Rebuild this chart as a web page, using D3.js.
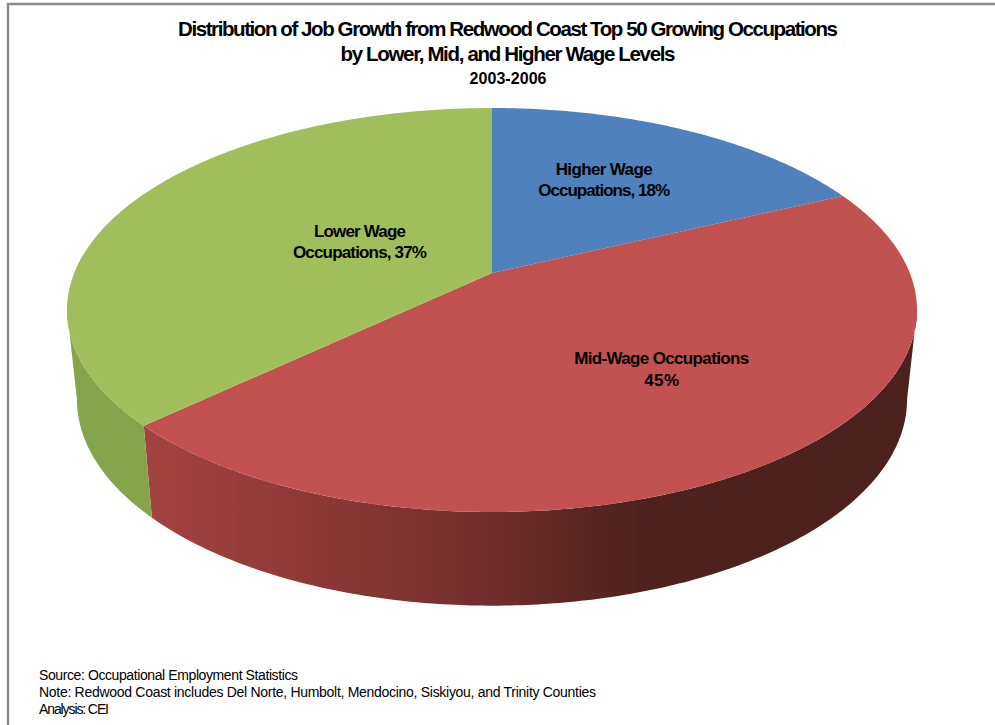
<!DOCTYPE html>
<html>
<head>
<meta charset="utf-8">
<script src="https://cdn.jsdelivr.net/npm/d3@7/dist/d3.min.js"></script>
<style>
  html, body { margin: 0; padding: 0; background: #fff; }
  svg { display: block; }
  text { font-family: "Liberation Sans", Arial, sans-serif; fill: #000; }
</style>
</head>
<body>
<svg id="chart" width="995" height="725"></svg>
<script>
// Wage-level shares of job growth, in clockwise order from twelve o'clock
const categories = ["Higher Wage Occupations", "Mid-Wage Occupations", "Lower Wage Occupations"];
const shares = [18, 45, 37];
const topColors = ["#4f81bd", "#c2524f", "#a0bf5c"];

// Wrapped label text for each slice
const sliceLabelLines = [
  ["Higher Wage", "Occupations, 18%"],
  ["Mid-Wage Occupations", "45%"],
  ["Lower Wage", "Occupations, 37%"]
];
const sliceLabelWidths = [[97, 132], [175, 35], [92, 134]];
// How far out along each slice's middle the label sits: [across, front-to-back]
const sliceLabelReach = [[0.546, 0.58], [0.66, 0.57], [0.353, 0.344]];

const titleLines = [
  "Distribution of Job Growth from Redwood Coast Top 50 Growing Occupations",
  "by Lower, Mid, and Higher Wage Levels",
  "2003-2006"
];
const footnoteLines = [
  "Source: Occupational Employment Statistics",
  "Note: Redwood Coast includes Del Norte, Humbolt, Mendocino, Siskiyou, and Trinity Counties",
  "Analysis: CEI"
];

const svg = d3.select("#chart");
const centerX = 492;
const tilt = 0.1832;   // perspective strength: the near edge of the disc looks larger

// Perspective view of a point on the unit disc; `face` picks the top or bottom rim
const topFace = { across: 417.8, depth: 145.2, y0: 273 };
const bottomFace = { across: 408, depth: 132.7, y0: 362 };
function project(face, x, y) {
  const w = 1 - tilt * y;
  return [centerX + face.across * x / w, (face.depth * y + face.y0) / w];
}
const onRim = (face, angle, r = 1) =>
  project(face, r * Math.sin(angle), -r * Math.cos(angle));

const slices = d3.pie().sort(null).value(d => d)(shares);
const line = d3.line();
const samples = (a0, a1) => {
  const n = Math.max(2, Math.ceil((a1 - a0) * 90));
  return d3.range(n + 1).map(i => a0 + (a1 - a0) * i / n);
};

// Frame: only the top and left edges of the chart box show
svg.append("path")
  .attr("d", "M8,725V4H995")
  .attr("fill", "none")
  .attr("stroke", "#8a8a8a")
  .attr("stroke-width", 2.4);

// Side wall shading, dark toward the right
const defs = svg.append("defs");
const wall = defs.append("linearGradient")
  .attr("id", "redWall")
  .attr("gradientUnits", "userSpaceOnUse")
  .attr("x1", 145).attr("x2", 917).attr("y1", 0).attr("y2", 0);
[[0, "#a3433f"], [0.16, "#933c39"], [0.33, "#803431"], [0.47, "#6d2c2a"],
 [0.58, "#582522"], [0.66, "#4e211e"], [1, "#4c201d"]]
  .forEach(([o, c]) => wall.append("stop").attr("offset", o).attr("stop-color", c));
const wallFills = [null, "url(#redWall)", "#86a44b"];

// Only the arc facing the viewer has a visible wall
const frontStart = Math.acos(-tilt);
const frontEnd = 2 * Math.PI - frontStart;
svg.append("g").selectAll("path")
  .data(slices)
  .join("path")
  .attr("d", s => {
    const a0 = Math.max(s.startAngle, frontStart);
    const a1 = Math.min(s.endAngle, frontEnd);
    if (a1 <= a0) return null;
    const angles = samples(a0, a1);
    return line([
      ...angles.map(a => onRim(topFace, a)),
      ...angles.slice().reverse().map(a => onRim(bottomFace, a))
    ]) + "Z";
  })
  .attr("fill", (s, i) => wallFills[i]);

// Top face of the disc
svg.append("g").selectAll("path")
  .data(slices)
  .join("path")
  .attr("d", s => line([
    onRim(topFace, 0, 0),
    ...samples(s.startAngle, s.endAngle).map(a => onRim(topFace, a))
  ]) + "Z")
  .attr("fill", (s, i) => topColors[i]);

// Slice labels, centred on a point along each slice's middle direction
const labels = svg.append("g").attr("font-size", 17).attr("font-weight", "bold");
slices.forEach((s, i) => {
  const mid = (s.startAngle + s.endAngle) / 2;
  const [rx, ry] = sliceLabelReach[i];
  const [cx, cy] = project(topFace, rx * Math.sin(mid), -ry * Math.cos(mid));
  sliceLabelLines[i].forEach((text, j) => {
    labels.append("text")
      .attr("x", cx)
      .attr("y", cy + (j === 0 ? -10 : (i === 1 ? 12 : 11)))
      .attr("text-anchor", "middle")
      .attr("textLength", sliceLabelWidths[i][j])
      .attr("lengthAdjust", "spacing")
      .text(text);
  });
});

// Title block
const titleLayout = [
  { y: 36, size: 20.5, width: 660 },
  { y: 61, size: 20.5, width: 335 },
  { y: 84, size: 16, width: 77 }
];
svg.append("g").attr("font-weight", "bold").selectAll("text")
  .data(titleLines)
  .join("text")
  .attr("x", 508)
  .attr("y", (d, i) => titleLayout[i].y)
  .attr("font-size", (d, i) => titleLayout[i].size)
  .attr("text-anchor", "middle")
  .attr("textLength", (d, i) => titleLayout[i].width)
  .attr("lengthAdjust", "spacing")
  .text(d => d);

// Source notes
const footnoteWidths = [259, 557, 70];
svg.append("g").attr("font-size", 14).selectAll("text")
  .data(footnoteLines)
  .join("text")
  .attr("x", 39)
  .attr("y", (d, i) => 680 + i * 17.2)
  .attr("textLength", (d, i) => footnoteWidths[i])
  .attr("lengthAdjust", "spacing")
  .text(d => d);
</script>
</body>
</html>
